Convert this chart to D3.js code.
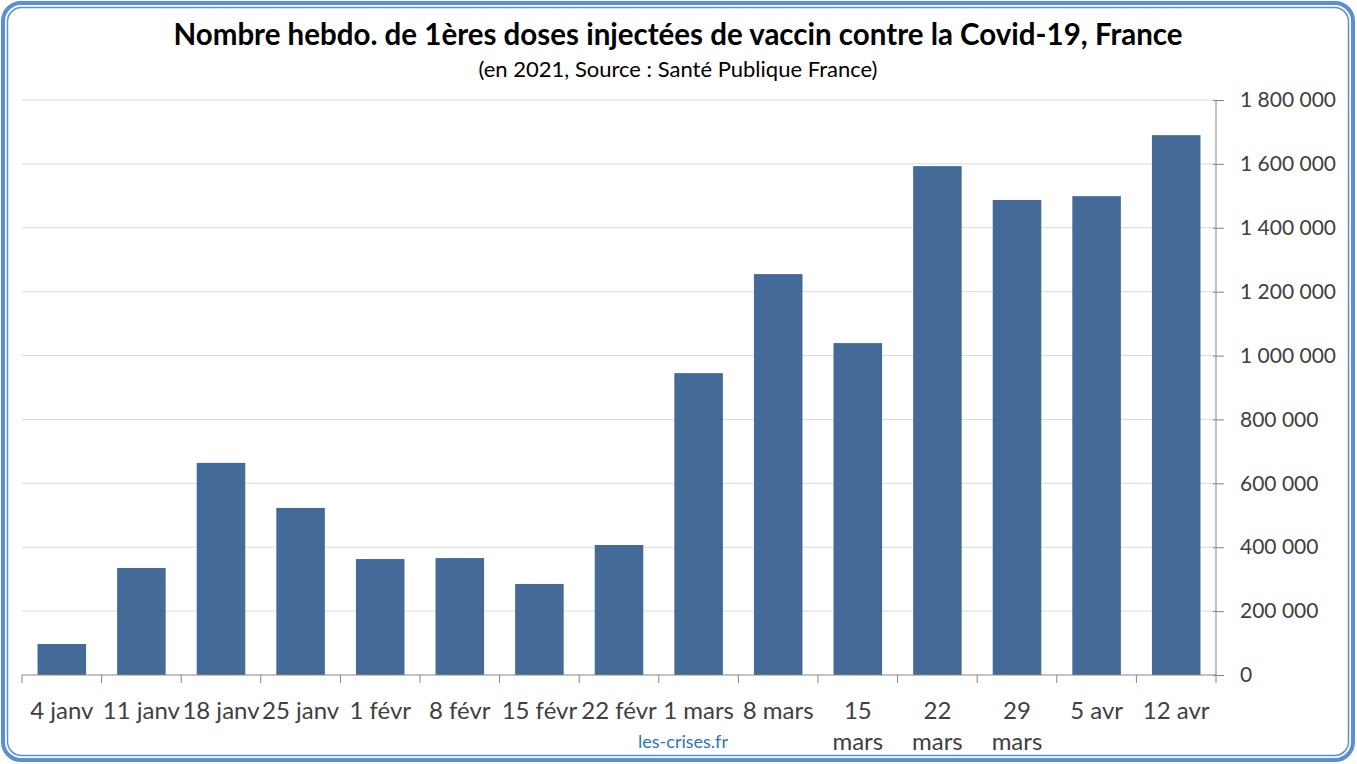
<!DOCTYPE html>
<html><head><meta charset="utf-8">
<script src="https://cdn.jsdelivr.net/npm/d3@7"></script>
<style>html,body{margin:0;padding:0;background:#fff;}svg{display:block;}</style>
</head><body>
<svg id="c" width="1357" height="764"></svg>
<script>
const categories = ["4 janv","11 janv","18 janv","25 janv","1 févr","8 févr","15 févr","22 févr","1 mars","8 mars","15 mars","22 mars","29 mars","5 avr","12 avr"];
const values = [97000,335000,664000,523000,363000,366000,285000,407000,945000,1255000,1039000,1593000,1487000,1499000,1690000];
const yTicks = [0,200000,400000,600000,800000,1000000,1200000,1400000,1600000,1800000];
const title = "Nombre hebdo. de 1ères doses injectées de vaccin contre la Covid-19, France";
const subtitle = "(en 2021, Source : Santé Publique France)";
const footer = "les-crises.fr";

const svg = d3.select("#c");
const W = 1357, H = 764;
const font = "Lato, 'Open Sans', sans-serif";

// frame
svg.append("rect").attr("x",3).attr("y",3).attr("width",W-7).attr("height",H-7)
  .attr("rx",18).attr("fill","#fff").attr("stroke","#5a8fd6").attr("stroke-width",4);
svg.append("rect").attr("x",7.5).attr("y",7.5).attr("width",W-16).attr("height",H-16)
  .attr("rx",14).attr("fill","none").attr("stroke","#5a8fd6").attr("stroke-width",1.5);

const x = d3.scaleBand().domain(categories).range([22,1216]).paddingInner(0.39).paddingOuter(0.195);
const y = d3.scaleLinear().domain([0,1800000]).range([675,100]);

// gridlines
svg.append("g").selectAll("line").data(yTicks.slice(1)).join("line")
  .attr("x1",22).attr("x2",1216).attr("y1",d=>y(d)).attr("y2",d=>y(d))
  .attr("stroke","#d9d9d9").attr("stroke-width",1);

// bars
svg.append("g").selectAll("rect").data(values).join("rect")
  .attr("x",(d,i)=>x(categories[i])).attr("width",x.bandwidth())
  .attr("y",d=>y(d)).attr("height",d=>y(0)-y(d)).attr("fill","#446a98");

// y axis on right
const fmt = d=>d3.format(",")(d).replace(/,/g," ");
const yAxis = svg.append("g").attr("transform","translate(1216,0)")
  .call(d3.axisRight(y).tickValues(yTicks).tickSize(8).tickPadding(16).tickFormat(fmt));
yAxis.select(".domain").attr("stroke","#868686").attr("d","M0,100V675");
yAxis.selectAll(".tick line").attr("stroke","#868686").attr("x1",-3);
yAxis.selectAll("text").attr("fill","#404040").style("font-family",font).style("font-size","21px");

// x axis
const xb = d3.scaleBand().domain(categories).range([22,1216]);
const xAxis = svg.append("g").attr("transform","translate(0,675)")
  .call(d3.axisBottom(xb).tickSize(0).tickPadding(0).tickFormat(""));
xAxis.select(".domain").attr("stroke","#868686").attr("d","M22,0H1216");
xAxis.selectAll(".tick").remove();
const bounds = categories.map(c=>xb(c)).concat([1216]);
xAxis.append("g").selectAll("line").data(bounds).join("line")
  .attr("x1",d=>d).attr("x2",d=>d).attr("y1",0).attr("y2",8).attr("stroke","#868686");

const labels = svg.append("g").style("font-family",font).style("font-size","24px").attr("fill","#404040");
categories.forEach((c,i)=>{
  const cx = xb(c)+xb.bandwidth()/2;
  const wrap = /^(15|22|29) mars$/.test(c);
  const t = labels.append("text").attr("text-anchor","middle").attr("x",cx).attr("y",719);
  if (wrap) {
    const parts = c.split(" ");
    t.append("tspan").attr("x",cx).attr("y",719).text(parts[0]);
    t.append("tspan").attr("x",cx).attr("y",750).text(parts[1]);
  } else t.text(c);
});

// titles
svg.append("text").attr("x",678).attr("y",45).attr("text-anchor","middle")
  .style("font-family",font).style("font-weight","bold").style("font-size","29.5px").attr("fill","#000").text(title);
svg.append("text").attr("x",678).attr("y",77).attr("text-anchor","middle")
  .style("font-family",font).style("font-size","22px").attr("fill","#000").text(subtitle);
svg.append("text").attr("x",683).attr("y",748).attr("text-anchor","middle")
  .style("font-family",font).style("font-size","18px").attr("fill","#2e75b6").text(footer);
</script>
</body></html>
